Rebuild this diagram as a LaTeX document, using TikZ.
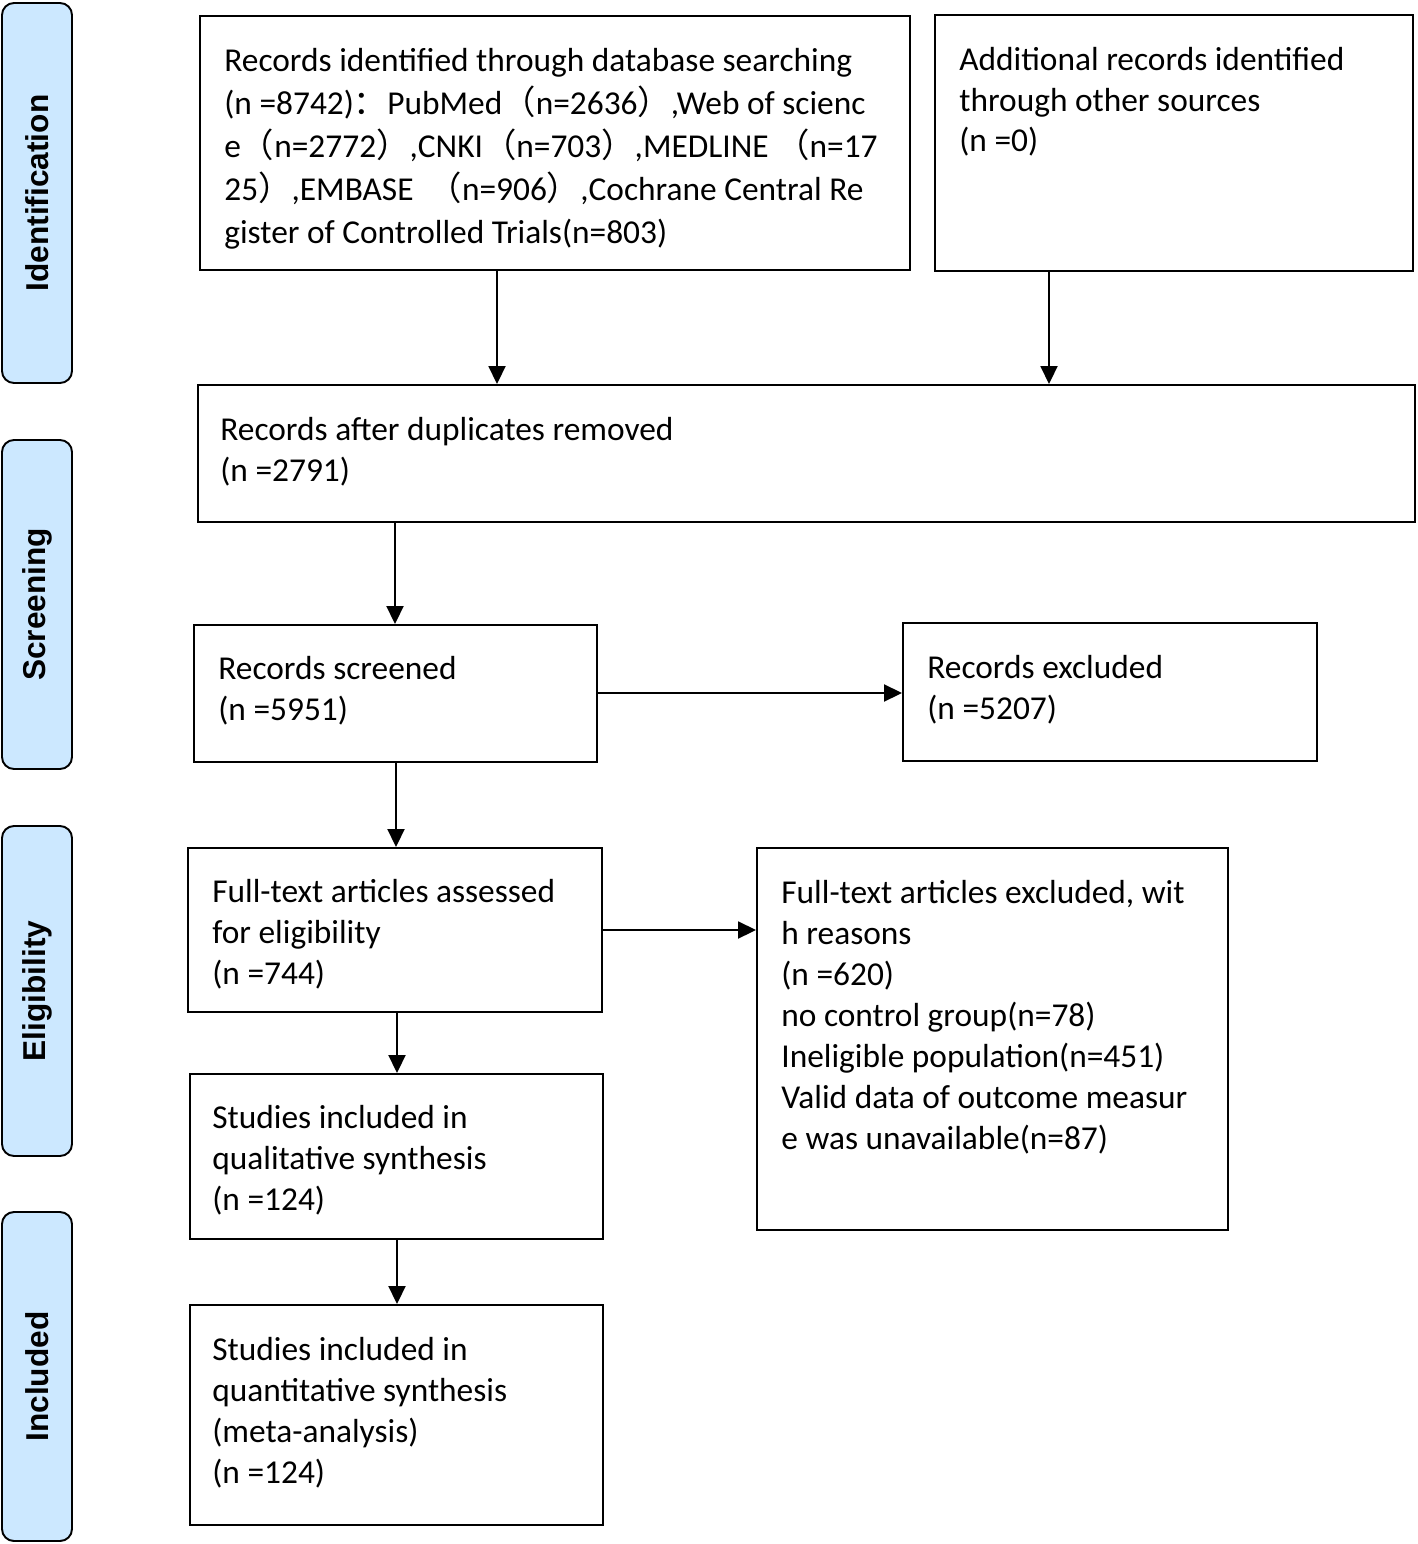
\documentclass[tikz,border=0pt]{standalone}
\usepackage{fontspec}
\setmainfont{Carlito}
\newfontfamily\cjkfont{Noto Sans CJK SC}
\newfontfamily\sidefont{Liberation Sans}
\usetikzlibrary{arrows.meta,fit}
\definecolor{sidefill}{HTML}{CCE8FF}
\newcommand{\flp}{{\cjkfont （}}
\newcommand{\frp}{{\cjkfont ）}}
\newcommand{\fcl}{{\cjkfont ：}}
\begin{document}
\begin{tikzpicture}[x=0.02cm,y=-0.02cm,
  box/.style={draw, line width=1.1pt, inner sep=0pt},
  side/.style={draw, line width=1.1pt, fill=sidefill, rounded corners=0.24cm, inner sep=0pt},
  sidetext/.style={rotate=90, font=\sidefont\bfseries\fontsize{18}{22}\selectfont, inner sep=0pt},
  txt/.style={anchor=base west, align=left, inner sep=0pt, font=\fontsize{19}{23.25}\selectfont},
  txtA/.style={txt, font=\fontsize{19}{24.4}\selectfont},
  arr/.style={line width=1.1pt, -{Triangle[length=0.36cm,width=0.34cm]}}]
\useasboundingbox (0,0) rectangle (1417,1544);
% side bars
\node[side, fit={(2,3) (72,383)}] (s1) {};
\node[side, fit={(2,440) (72,769)}] (s2) {};
\node[side, fit={(2,826) (72,1156)}] (s3) {};
\node[side, fit={(2,1212) (72,1541)}] (s4) {};
\node[sidetext] (s1t) at (s1.center) {Identification};
\node[sidetext] (s2t) at (s2.center) {Screening};
\node[sidetext] (s3t) at (s3.center) {Eligibility};
\node[sidetext] (s4t) at (s4.center) {Included};
% boxes
\node[box, fit={(200,16) (910,270)}] (A) {};
\node[box, fit={(935,15) (1413,271)}] (B) {};
\node[box, fit={(198,385) (1415,522)}] (C) {};
\node[box, fit={(194,625) (597,762)}] (D) {};
\node[box, fit={(903,623) (1317,761)}] (E) {};
\node[box, fit={(188,848) (602,1012)}] (F) {};
\node[box, fit={(757,848) (1228,1230)}] (G) {};
\node[box, fit={(190,1074) (603,1239)}] (H) {};
\node[box, fit={(190,1305) (603,1525)}] (I) {};
% texts (anchored at the baseline of the last line)
\node[txtA] (At) at (224,243) {Records identified through database searching\\
(n =8742)\fcl PubMed\flp n=2636\frp,Web of scienc\\
e\flp n=2772\frp,CNKI\flp n=703\frp,MEDLINE \flp n=17\\
25\frp,EMBASE \ \flp n=906\frp,Cochrane Central Re\\
gister of Controlled Trials(n=803)};
\node[txt] (Bt) at (959,152) {Additional records identified\\through other sources\\(n =0)};
\node[txt] (Ct) at (220,481) {Records after duplicates removed\\(n =2791)};
\node[txt] (Dt) at (218,720) {Records screened\\(n =5951)};
\node[txt] (Et) at (927,719) {Records excluded\\(n =5207)};
\node[txt] (Ft) at (212,984) {Full-text articles assessed\\for eligibility\\(n =744)};
\node[txt] (Gt) at (781,1149) {Full-text articles excluded, wit\\h reasons\\(n =620)\\no control group(n=78)\\Ineligible population(n=451)\\Valid data of outcome measur\\e was unavailable(n=87)};
\node[txt] (Ht) at (212,1210) {Studies included in\\qualitative synthesis\\(n =124)};
\node[txt] (It) at (212,1483) {Studies included in\\quantitative synthesis\\(meta-analysis)\\(n =124)};
% connectors
\coordinate (xa) at (497,0);
\coordinate (xb) at (1049,0);
\coordinate (xc) at (395,0);
\coordinate (xd) at (396,0);
\coordinate (xf) at (397,0);
\coordinate (yd) at (0,693);
\coordinate (yf) at (0,930);
\draw[arr] (A.south -| xa) -- (C.north -| xa);
\draw[arr] (B.south -| xb) -- (C.north -| xb);
\draw[arr] (C.south -| xc) -- (D.north -| xc);
\draw[arr] (D.east |- yd) -- (E.west |- yd);
\draw[arr] (D.south -| xd) -- (F.north -| xd);
\draw[arr] (F.east |- yf) -- (G.west |- yf);
\draw[arr] (F.south -| xf) -- (H.north -| xf);
\draw[arr] (H.south -| xf) -- (I.north -| xf);
\end{tikzpicture}
\end{document}
